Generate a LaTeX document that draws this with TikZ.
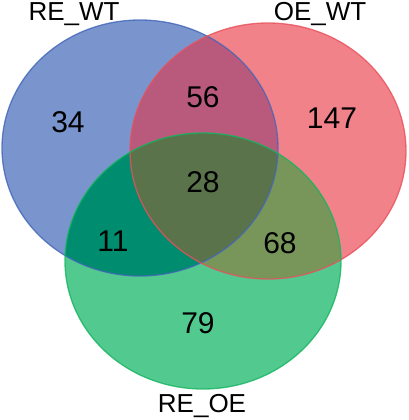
\documentclass[tikz,border=0pt]{standalone}
\usepackage{fontspec}
\setmainfont{Liberation Sans}
\usetikzlibrary{shapes.geometric}

\definecolor{setblue}{RGB}{65,102,185}
\definecolor{setred}{RGB}{232,80,90}
\definecolor{setgreen}{RGB}{20,180,95}
% region fills
\definecolor{onlyblue}{RGB}{122,148,206}
\definecolor{onlyred}{RGB}{242,130,137}
\definecolor{onlygreen}{RGB}{82,202,143}
\definecolor{bluered}{RGB}{185,90,125}
\definecolor{bluegreen}{RGB}{0,140,110}
\definecolor{redgreen}{RGB}{120,150,90}
\definecolor{allsets}{RGB}{90,115,75}

\def\rewtpath{(140,148) ellipse [x radius=138, y radius=128]}
\def\oewtpath{(268,151) ellipse [x radius=138, y radius=128]}
\def\reoepath{(203,261) ellipse [x radius=138, y radius=128]}

\begin{document}
\begin{tikzpicture}[
  x=1pt, y=-1pt,
  set/.style={ellipse, draw=#1, draw opacity=0.8, line width=1.3pt,
    minimum width=276pt, minimum height=256pt, inner sep=0pt},
  setname/.style={font=\fontsize{26}{30}\selectfont, anchor=base},
  count/.style={font=\fontsize{30}{36}\selectfont}
]
  \useasboundingbox (0,0) rectangle (408,420);

  % fills of the seven regions
  \fill[onlyblue] \rewtpath;
  \fill[onlyred] \oewtpath;
  \fill[onlygreen] \reoepath;
  \begin{scope}
    \clip \rewtpath;
    \fill[bluered] \oewtpath;
    \fill[bluegreen] \reoepath;
  \end{scope}
  \begin{scope}
    \clip \oewtpath;
    \fill[redgreen] \reoepath;
    \clip \rewtpath;
    \fill[allsets] \reoepath;
  \end{scope}

  % outlines
  \node[set=setblue] (rewt) at (140,148) {};
  \node[set=setred] (oewt) at (268,151) {};
  \node[set=setgreen] (reoe) at (203,261) {};

  \node[setname] (rewtname) at (74,21) {RE\_WT};
  \node[setname] (oewtname) at (320,21) {OE\_WT};
  \node[setname] (reoename) at (202,412) {RE\_OE};

  \node[count] (onlyrewt) at (68,122) {34};
  \node[count] (rewtoewt) at (203,97) {56};
  \node[count] (onlyoewt) at (332,118) {147};
  \node[count] (allthree) at (203,182) {28};
  \node[count] (rewtreoe) at (113,241) {11};
  \node[count] (oewtreoe) at (280,243) {68};
  \node[count] (onlyreoe) at (198,323) {79};
\end{tikzpicture}
\end{document}
